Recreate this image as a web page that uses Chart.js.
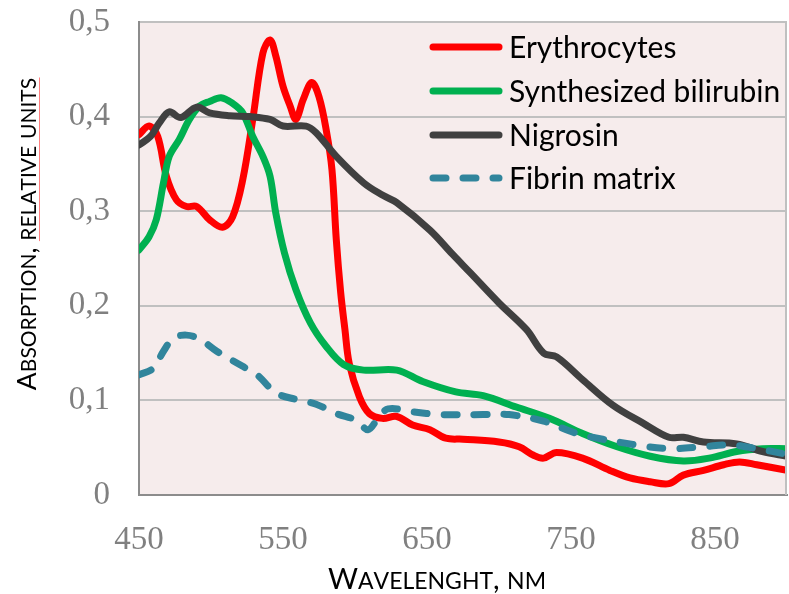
<!DOCTYPE html>
<html><head><meta charset="utf-8">
<script src="https://cdn.jsdelivr.net/npm/chart.js@4/dist/chart.umd.min.js"></script>
<style>html,body{margin:0;padding:0;background:#fff}#wrap{width:789px;height:594px;position:relative}</style>
</head><body><div id="wrap"><canvas id="c" width="789" height="594"></canvas></div>
<script>
// ---- data ----
const seriesNames = ['Erythrocytes', 'Synthesized bilirubin', 'Nigrosin', 'Fibrin matrix'];
const xTickValues = [450, 550, 650, 750, 850];
const yTickValues = [0, 0.1, 0.2, 0.3, 0.4, 0.5];
const xTitle = 'Wavelenght, nm';
const yTitle = 'Absorption, relative units';

const erythWl  = [450,457,463,469,476,483,490,499,508,515,522,529,536,541,545,550,555,559,564,570,575,580,584,587,590,593,596,603,610,619,629,640,652,663,675,700,714,724,731,740,758,777,791,805,818,828,842,856,867,879,900];
const erythAbs = [.381,.390,.379,.337,.312,.305,.305,.291,.283,.294,.333,.397,.467,.481,.464,.432,.411,.397,.418,.436,.421,.386,.344,.270,.215,.175,.139,.104,.086,.081,.083,.074,.069,.060,.059,.056,.051,.042,.039,.045,.039,.026,.018,.014,.012,.021,.026,.032,.035,.032,.026];

const biliWl  = [450,457,462,467,471,478,485,492,499,507,515,522,529,536,541,545,551,559,569,580,592,606,629,647,670,689,712,735,758,782,805,828,846,865,883,900];
const biliAbs = [.259,.273,.291,.330,.358,.376,.397,.411,.416,.420,.414,.404,.379,.358,.337,.298,.256,.217,.182,.157,.138,.132,.132,.120,.109,.105,.093,.081,.065,.051,.041,.036,.039,.046,.049,.049];

const nigroWl  = [450,458,464,471,479,490,499,513,527,541,550,566,573,587,606,619,629,652,668,680,700,719,731,740,758,779,800,818,828,842,865,883,900];
const nigroAbs = [.370,.379,.393,.405,.399,.410,.404,.401,.400,.397,.390,.390,.383,.358,.330,.317,.309,.280,.254,.235,.203,.175,.150,.146,.122,.095,.076,.061,.061,.056,.054,.046,.041];

const fibrinWl  = [450,460,467,474,483,492,504,522,532,545,559,573,587,601,609,616,623,640,659,689,707,731,754,772,795,818,842,860,879,900];
const fibrinAbs = [.127,.134,.152,.166,.169,.165,.152,.136,.127,.108,.101,.096,.086,.079,.069,.081,.091,.088,.085,.085,.085,.078,.065,.059,.053,.049,.051,.053,.049,.043];

// ---- styles ----
const colors = ['#FF0000', '#00B050', '#404040', '#31859C'];
const dashes = [[], [], [], [13, 17]];
const TITLE_FONT = 'Lato, "Open Sans", sans-serif';

function pts(xs, ys) { return xs.map((x, i) => ({x: x, y: ys[i]})); }
const allWl = [erythWl, biliWl, nigroWl, fibrinWl];
const allAbs = [erythAbs, biliAbs, nigroAbs, fibrinAbs];

const datasets = seriesNames.map((name, i) => ({
  label: name,
  data: pts(allWl[i], allAbs[i]),
  borderColor: colors[i],
  backgroundColor: colors[i],
  borderWidth: 7,
  borderDash: dashes[i],
  borderCapStyle: 'round',
  borderJoinStyle: 'round',
  pointRadius: 0,
  tension: 0.35,
  fill: false,
  order: 4 - i
}));

function drawSmallCaps(ctx, text, x, y, big, small, align) {
  const parts = [];
  let total = 0;
  for (const ch of text) {
    const isLower = ch !== ch.toUpperCase();
    const size = isLower ? small : big;
    const s = isLower ? ch.toUpperCase() : ch;
    ctx.font = size + 'px ' + TITLE_FONT;
    const w = ctx.measureText(s).width;
    parts.push({s, size, w});
    total += w;
  }
  let cx = align === 'center' ? x - total / 2 : x;
  const startX = cx;
  for (const p of parts) {
    ctx.font = p.size + 'px ' + TITLE_FONT;
    ctx.fillText(p.s, cx, y);
    cx += p.w;
  }
  return {start: startX, parts};
}

const decor = {
  id: 'decor',
  beforeDraw(chart) {
    const {ctx, chartArea: a} = chart;
    ctx.save();
    ctx.fillStyle = '#F6ECEC';
    ctx.fillRect(a.left, a.top, a.right - a.left, a.bottom - a.top);
    ctx.restore();
  },
  afterDraw(chart) {
    const {ctx, chartArea: a} = chart;
    ctx.save();
    // right border
    ctx.strokeStyle = '#C0C0C0';
    ctx.lineWidth = 2;
    ctx.beginPath();
    ctx.moveTo(a.right - 1, a.top);
    ctx.lineTo(a.right - 1, a.bottom);
    ctx.stroke();

    // legend
    const lx0 = 430, lx1 = 502, tx = 509;
    const ys = [47, 91, 135, 178];
    seriesNames.forEach((name, i) => {
      ctx.strokeStyle = colors[i];
      ctx.lineWidth = 7;
      ctx.lineCap = 'round';
      ctx.setLineDash(dashes[i]);
      ctx.beginPath();
      ctx.moveTo(lx0 + 3, ys[i]);
      ctx.lineTo(lx1 - 3, ys[i]);
      ctx.stroke();
      ctx.setLineDash([]);
      ctx.fillStyle = '#000';
      ctx.font = '30px ' + TITLE_FONT;
      ctx.textBaseline = 'middle';
      ctx.textAlign = 'left';
      ctx.fillText(name, tx, ys[i] + 1);
    });

    // axis titles
    ctx.fillStyle = '#000';
    ctx.textBaseline = 'alphabetic';
    ctx.textAlign = 'left';
    drawSmallCaps(ctx, xTitle, 437, 589, 29, 23, 'center');

    ctx.save();
    ctx.translate(36, 234);
    ctx.rotate(-Math.PI / 2);
    const r = drawSmallCaps(ctx, yTitle, 0, 0, 26.5, 21, 'center');
    const idx = yTitle.indexOf('relative');
    let ux = r.start;
    for (let k = 0; k < idx; k++) ux += r.parts[k].w;
    let uend = r.start;
    for (const p of r.parts) uend += p.w;
    ctx.strokeStyle = '#FF8080';
    ctx.lineWidth = 1;
    ctx.beginPath();
    ctx.moveTo(ux, 3.5);
    ctx.lineTo(uend, 3.5);
    ctx.stroke();
    ctx.restore();

    ctx.restore();
  }
};

new Chart(document.getElementById('c'), {
  type: 'line',
  data: {datasets},
  options: {
    responsive: false,
    devicePixelRatio: 1,
    animation: false,
    layout: {padding: {left: 0, right: 2, top: 22, bottom: 0}},
    plugins: {legend: {display: false}, tooltip: {enabled: false}},
    scales: {
      x: {
        type: 'linear',
        min: 450, max: 900,
        afterBuildTicks: s => { s.ticks = xTickValues.map(v => ({value: v})); },
        afterFit: s => { s.height = 99; s.paddingLeft = 0; s.paddingRight = 0; },
        grid: {display: false, drawTicks: false},
        border: {display: true, color: '#8C8C8C', width: 2},
        ticks: {
          padding: 26,
          color: '#808080',
          font: {family: '"Liberation Serif", "Times New Roman", serif', size: 33},
          maxRotation: 0,
          autoSkip: false,
          callback: v => String(v)
        }
      },
      y: {
        type: 'linear',
        min: 0, max: 0.5,
        afterBuildTicks: s => { s.ticks = yTickValues.map(v => ({value: v})); },
        afterFit: s => { s.width = 139; s.paddingTop = 0; s.paddingBottom = 0; },
        grid: {color: '#C0C0C0', lineWidth: 2, drawTicks: false},
        border: {display: true, color: '#8C8C8C', width: 2},
        ticks: {
          padding: 29,
          color: '#808080',
          font: {family: '"Liberation Serif", "Times New Roman", serif', size: 33},
          callback: v => String(Math.round(v * 10) / 10).replace('.', ',')
        }
      }
    }
  },
  plugins: [decor]
});
</script>
</body></html>
